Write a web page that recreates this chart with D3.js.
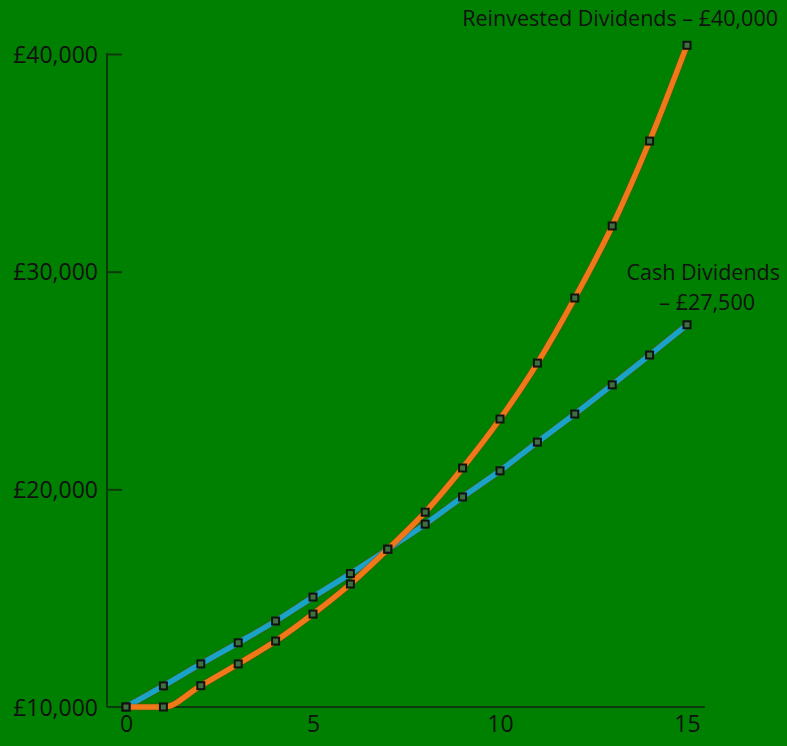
<!DOCTYPE html>
<html>
<head>
<meta charset="utf-8">
<script src="https://d3js.org/d3.v7.min.js"></script>
<style>
body { margin: 0; background: #008000; }
svg { display: block; }
text { font-family: 'Open Sans', 'Noto Sans', sans-serif; fill: #111; }
</style>
</head>
<body>
<svg width="787" height="746"></svg>
<script>
var years = [0, 1, 2, 3, 4, 5, 6, 7, 8, 9, 10, 11, 12, 13, 14, 15];
var cashValues = [10000, 10970, 11980, 12950, 13950, 15050, 16130, 17250, 18400, 19650, 20850, 22170, 23460, 24800, 26170, 27560];
var reinvestValues = [10000, 10000, 10980, 11980, 13030, 14270, 15650, 17250, 18950, 20980, 23230, 25800, 28790, 32100, 36000, 40400];
var yTicks = [10000, 20000, 30000, 40000];
var xTicks = [0, 5, 10, 15];

var svg = d3.select("svg");

var x = d3.scaleLinear().domain([0, 15]).range([126, 687]);
var y = d3.scaleLinear().domain([10000, 40000]).range([707, 54]);

var axisColor = "#0d3a0d";

// axis lines
svg.append("line")
  .attr("x1", 107).attr("x2", 107)
  .attr("y1", y(40000) - 1).attr("y2", y(10000))
  .attr("stroke", axisColor).attr("stroke-width", 2);
svg.append("line")
  .attr("x1", 107).attr("x2", 705)
  .attr("y1", y(10000)).attr("y2", y(10000))
  .attr("stroke", axisColor).attr("stroke-width", 2);

// y ticks point inward
var yAxis = d3.axisLeft(y).tickValues(yTicks).tickSize(0)
  .tickFormat(function (d) { return "£" + d3.format(",")(d); });
var gy = svg.append("g").attr("transform", "translate(107,0)").call(yAxis);
gy.select(".domain").remove();
gy.selectAll(".tick text").attr("x", -9).attr("dy", "0.35em").style("font-size", "23px").attr("fill", "#111");
gy.selectAll(".tick").filter(function (d) { return d > 10000; })
  .append("line").attr("x1", 0).attr("x2", 15)
  .attr("stroke", axisColor).attr("stroke-width", 2);

var xAxis = d3.axisBottom(x).tickValues(xTicks).tickSize(0);
var gx = svg.append("g").attr("transform", "translate(0," + y(10000) + ")").call(xAxis);
gx.select(".domain").remove();
gx.selectAll(".tick text").attr("y", 9).style("font-size", "23px").attr("fill", "#111");

var line = d3.line()
  .x(function (d, i) { return x(years[i]); })
  .y(function (d) { return y(d); })
  .curve(d3.curveMonotoneX);

function drawSeries(values, color) {
  svg.append("path").datum(values)
    .attr("d", line).attr("fill", "none")
    .attr("stroke", "#7a3c10").attr("stroke-width", 7).attr("stroke-opacity", 0.45);
  svg.append("path").datum(values)
    .attr("d", line).attr("fill", "none")
    .attr("stroke", color).attr("stroke-width", 5.5);
}

drawSeries(cashValues, "#1aa3c8");
drawSeries(reinvestValues, "#f07818");

function drawMarkers(values) {
  svg.selectAll(null).data(values).enter().append("rect")
    .attr("x", function (d, i) { return x(years[i]) - 3.5; })
    .attr("y", function (d) { return y(d) - 3.5; })
    .attr("width", 7).attr("height", 7)
    .attr("fill", "#3f703f").attr("stroke", "#111").attr("stroke-width", 2);
}
drawMarkers(cashValues);
drawMarkers(reinvestValues);

// labels
svg.append("text").attr("x", 778).attr("y", 26).attr("text-anchor", "end")
  .style("font-size", "21.5px").text("Reinvested Dividends – £40,000");
svg.append("text").attr("x", 780).attr("y", 280).attr("text-anchor", "end")
  .style("font-size", "21.5px").text("Cash Dividends");
svg.append("text").attr("x", 755).attr("y", 310).attr("text-anchor", "end")
  .style("font-size", "21.5px").text("– £27,500");
</script>
</body>
</html>
